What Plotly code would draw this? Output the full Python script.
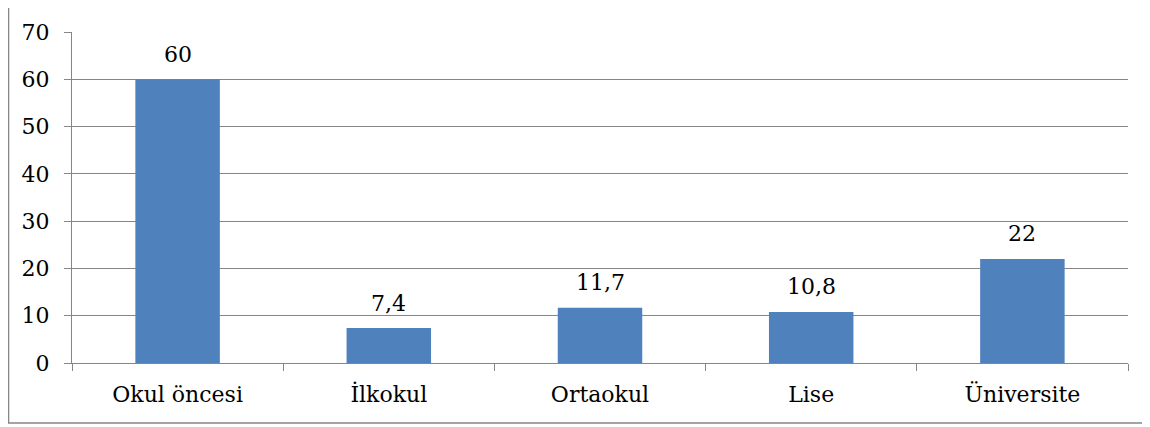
import plotly.graph_objects as go

# education levels and values
categories = ["Okul öncesi", "İlkokul", "Ortaokul", "Lise", "Üniversite"]
values = [60, 7.4, 11.7, 10.8, 22]
labels = [f"{v:g}".replace(".", ",") for v in values]

serif = "DejaVu Serif"

fig = go.Figure()

fig.add_trace(go.Bar(
    x=categories, y=values,
    marker=dict(color="#4F81BD", line=dict(width=0)),
))

# value labels above bars
for c, v, t in zip(categories, values, labels):
    fig.add_annotation(x=c, y=v, text=t, showarrow=False,
                       yanchor="middle", yshift=25,
                       font=dict(family=serif, size=22, color="black"))

# page body has an 8px margin, so the figure is a bit smaller
fig.update_layout(
    width=1142, height=419,
    margin=dict(l=64, r=22, t=18, b=64),
    plot_bgcolor="white", paper_bgcolor="white",
    font=dict(family=serif, size=22, color="black"),
    bargap=0.6, showlegend=False,
)

fig.update_xaxes(
    showline=True, linecolor="#868686", linewidth=1,
    ticks="outside", tickson="boundaries", ticklen=7, tickcolor="#868686",
    showgrid=False, ticklabelstandoff=12,
    tickfont=dict(family=serif, size=22, color="black"),
)
fig.update_yaxes(
    range=[0, 70], dtick=10,
    showline=True, linecolor="#868686", linewidth=1,
    ticks="outside", ticklen=7, tickcolor="#868686",
    showgrid=True, gridcolor="#868686", gridwidth=1,
    zeroline=False, ticklabelstandoff=10,
    tickfont=dict(family=serif, size=22, color="black"),
)

# outer chart border
fig.add_shape(type="rect", xref="paper", yref="paper",
              x0=-0.0601, x1=1.0189, y0=-0.181, y1=1.1,
              line=dict(color="#868686", width=1.5))

fig.write_html("out.html")
